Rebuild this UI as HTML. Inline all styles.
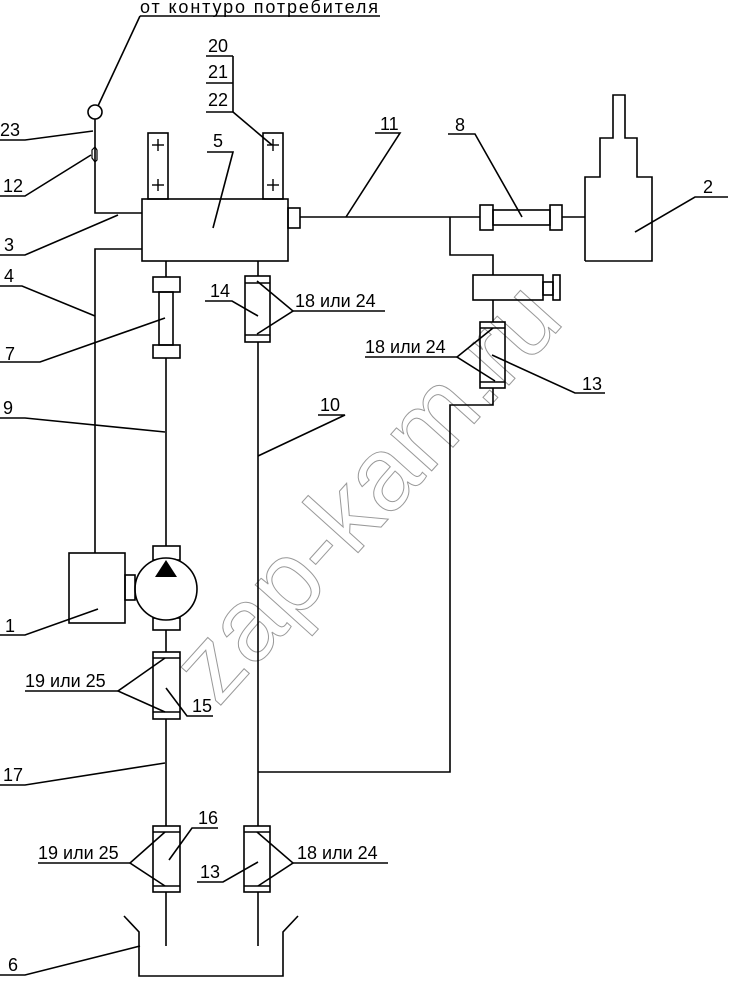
<!DOCTYPE html>
<html><head><meta charset="utf-8"><style>html,body{margin:0;padding:0;background:#fff}svg{display:block}</style></head><body>
<svg width="741" height="1000" viewBox="0 0 741 1000" xmlns="http://www.w3.org/2000/svg">
<g transform="translate(392,515) rotate(-48)"><text x="0" y="0" text-anchor="middle" font-family="Liberation Sans, sans-serif" font-size="104" fill="none" stroke="#999" stroke-width="1">zap-kam.ru</text></g>
<g fill="none" stroke="#000" stroke-width="1.6">
<line x1="140" y1="16" x2="380" y2="16"/><line x1="140" y1="16" x2="98" y2="106"/>
<circle cx="95" cy="112" r="7"/>
<polyline points="95,119 95,213 142,213"/>
<path d="M92,150 L95,147 L97,150 L97,160 L95,162 L92,158 Z" stroke-width="1.2"/>
<polyline points="0,140 25,140 93,131"/><polyline points="0,196 25,196 91,155"/>
<polyline points="0,255 25,255 118,215"/><polyline points="0,286 22,286 95,316"/>
<rect x="142" y="199" width="146" height="62"/><rect x="288" y="208" width="12" height="20"/>
<rect x="148" y="133" width="20" height="66"/><rect x="263" y="133" width="20" height="66"/>
<polyline points="207,152 233,152 213,228"/>
<line x1="206" y1="56" x2="233" y2="56"/><line x1="206" y1="83" x2="233" y2="83"/><line x1="206" y1="112" x2="233" y2="112"/>
<line x1="233" y1="56" x2="233" y2="112"/><line x1="233" y1="112" x2="272" y2="145"/>
<polyline points="142,249 95,249 95,553"/>
<line x1="166" y1="261" x2="166" y2="277"/>
<rect x="153" y="277" width="27" height="15"/><rect x="159" y="292" width="14" height="53"/><rect x="153" y="345" width="27" height="13"/>
<line x1="166" y1="358" x2="166" y2="546"/>
<polyline points="0,362 40,362 165,318"/><polyline points="0,418 25,418 165,432"/>
<line x1="258" y1="261" x2="258" y2="276"/>
<rect x="245" y="276" width="25" height="66"/><line x1="245" y1="283" x2="270" y2="283"/><line x1="245" y1="335" x2="270" y2="335"/>
<line x1="258" y1="342" x2="258" y2="826"/>
<polyline points="205,301 232,301 258,316"/>
<line x1="293" y1="311" x2="385" y2="311"/><polyline points="257,281 293,311 257,334"/>
<polyline points="318,415 345,415 258,456"/>
<line x1="300" y1="217" x2="480" y2="217"/>
<polyline points="375,133 400,133 346,217"/><polyline points="448,134 475,134 522,217"/>
<rect x="480" y="205" width="13" height="25"/><rect x="493" y="210" width="57" height="15"/><rect x="550" y="205" width="12" height="25"/>
<line x1="562" y1="217" x2="585" y2="217"/>
<polyline points="585,261 585,177 600,177 600,138 613,138 613,95 625,95 625,138 637,138 637,177 652,177 652,261 585,261"/>
<polyline points="728,197 695,197 635,232"/>
<polyline points="450,217 450,255 493,255 493,275"/>
<rect x="473" y="275" width="70" height="25"/><rect x="543" y="282" width="10" height="13"/><rect x="553" y="275" width="7" height="25"/>
<line x1="493" y1="300" x2="493" y2="322"/>
<rect x="480" y="322" width="25" height="66"/><line x1="480" y1="328" x2="505" y2="328"/><line x1="480" y1="382" x2="505" y2="382"/>
<polyline points="493,388 493,405 450,405 450,772 258,772"/>
<line x1="365" y1="357" x2="457" y2="357"/><polyline points="493,328 457,357 495,381"/>
<polyline points="605,393 575,393 492,355"/>
<rect x="153" y="546" width="27" height="14"/><rect x="153" y="618" width="27" height="12"/>
<circle cx="166" cy="589" r="31" fill="#fff"/>
<rect x="69" y="553" width="56" height="70"/><rect x="125" y="575" width="10" height="25"/>
<polyline points="0,635 25,635 98,609"/>
<line x1="166" y1="630" x2="166" y2="652"/>
<rect x="153" y="652" width="27" height="67"/><line x1="153" y1="658" x2="180" y2="658"/><line x1="153" y1="712" x2="180" y2="712"/>
<line x1="25" y1="691" x2="118" y2="691"/><polyline points="165,658 118,691 165,712"/>
<polyline points="213,716 187,716 166,688"/>
<line x1="166" y1="719" x2="166" y2="826"/>
<polyline points="0,785 25,785 165,763"/>
<rect x="153" y="826" width="27" height="66"/><line x1="153" y1="832" x2="180" y2="832"/><line x1="153" y1="886" x2="180" y2="886"/>
<line x1="38" y1="863" x2="130" y2="863"/><polyline points="165,832 130,863 165,886"/>
<polyline points="218,828 192,828 169,860"/>
<rect x="244" y="826" width="26" height="66"/><line x1="244" y1="832" x2="270" y2="832"/><line x1="244" y1="886" x2="270" y2="886"/>
<polyline points="197,882 223,882 258,862"/>
<line x1="293" y1="863" x2="388" y2="863"/><polyline points="257,832 293,863 258,886"/>
<line x1="166" y1="892" x2="166" y2="946"/><line x1="258" y1="892" x2="258" y2="946"/>
<polyline points="124,916 139,932 139,976 283,976 283,932 298,916"/>
<polyline points="0,975 25,975 140,946"/>
</g>
<polygon points="166,560 155,577 177,577" fill="#000"/>
<g stroke="#000" stroke-width="1.4">
<line x1="152" y1="145" x2="164" y2="145"/><line x1="158" y1="139" x2="158" y2="151"/>
<line x1="152" y1="185" x2="164" y2="185"/><line x1="158" y1="179" x2="158" y2="191"/>
<line x1="267" y1="145" x2="279" y2="145"/><line x1="273" y1="139" x2="273" y2="151"/>
<line x1="267" y1="185" x2="279" y2="185"/><line x1="273" y1="179" x2="273" y2="191"/>
</g>
<g fill="#000" font-family="Liberation Sans, sans-serif" font-size="18">
<text x="140" y="13" textLength="238" lengthAdjust="spacing">от контуро потребителя</text>
<text x="208" y="52">20</text><text x="208" y="78">21</text><text x="208" y="106">22</text>
<text x="0" y="136">23</text><text x="3" y="192">12</text><text x="4" y="251">3</text><text x="4" y="282">4</text>
<text x="213" y="147">5</text><text x="5" y="360">7</text><text x="3" y="414">9</text>
<text x="210" y="297">14</text><text x="295" y="307">18 или 24</text>
<text x="320" y="411">10</text><text x="380" y="130">11</text><text x="455" y="131">8</text>
<text x="703" y="193">2</text><text x="365" y="353">18 или 24</text><text x="582" y="390">13</text>
<text x="5" y="632">1</text><text x="25" y="687">19 или 25</text><text x="192" y="712">15</text>
<text x="3" y="781">17</text><text x="198" y="824">16</text><text x="38" y="859">19 или 25</text>
<text x="200" y="878">13</text><text x="297" y="859">18 или 24</text><text x="8" y="971">6</text>
</g>
</svg>
</body></html>
